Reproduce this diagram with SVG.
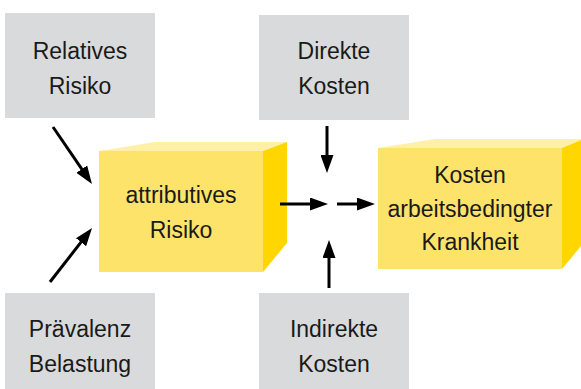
<svg xmlns="http://www.w3.org/2000/svg" width="581" height="389" viewBox="0 0 581 389">
<style>
.grey{fill:#d9dadc}
.front{fill:#fee36a}
.top{fill:#fff0a8}
.side{fill:#ffd600}
text{font-family:"Liberation Sans",Arial,sans-serif;font-size:23px;fill:#1a1a1a;text-anchor:middle}
.conn line{stroke:#000;stroke-width:3;marker-end:url(#ah)}
</style>
<defs>
<marker id="ah" markerUnits="userSpaceOnUse" markerWidth="18" markerHeight="13" refX="8" refY="6.5" orient="auto">
<path d="M0,0 L18,6.5 L0,13 z" fill="#000"/>
</marker>
</defs>
<rect width="581" height="389" fill="#fff"/>
<g id="relatives-risiko">
<rect class="grey" x="5" y="13" width="150" height="105"/>
<text x="80" y="59">Relatives</text>
<text x="80" y="94">Risiko</text>
</g>
<g id="direkte-kosten">
<rect class="grey" x="259" y="15" width="150" height="105"/>
<text x="334" y="59">Direkte</text>
<text x="334" y="94">Kosten</text>
</g>
<g id="praevalenz-belastung">
<rect class="grey" x="5" y="293" width="150" height="96"/>
<text x="80" y="337">Prävalenz</text>
<text x="80" y="372">Belastung</text>
</g>
<g id="indirekte-kosten">
<rect class="grey" x="259" y="293" width="150" height="96"/>
<text x="334" y="337">Indirekte</text>
<text x="334" y="372">Kosten</text>
</g>
<g id="attributives-risiko">
<polygon class="top" points="99,151 155,142 287,142 263,151"/>
<polygon class="side" points="263,151 287,142 287,243 263,272"/>
<rect class="front" x="99" y="151" width="164" height="121"/>
<text x="181" y="203">attributives</text>
<text x="181" y="238">Risiko</text>
</g>
<g id="kosten-krankheit">
<polygon class="top" points="378,148 435,139 581,139 581,140 562,148"/>
<polygon class="side" points="562,148 581,140 581,246 562,269"/>
<rect class="front" x="378" y="148" width="184" height="121"/>
<text x="470" y="183">Kosten</text>
<text x="470" y="217">arbeitsbedingter</text>
<text x="470" y="250">Krankheit</text>
</g>
<g id="connectors" class="conn">
<line x1="53" y1="127" x2="86.3" y2="175.7"/>
<line x1="50" y1="282" x2="85.9" y2="235.9"/>
<line x1="327" y1="126" x2="327" y2="163"/>
<line x1="329" y1="288" x2="329" y2="250"/>
<line x1="280" y1="204" x2="318" y2="204"/>
<line x1="337" y1="204" x2="365" y2="204"/>
</g>
</svg>
